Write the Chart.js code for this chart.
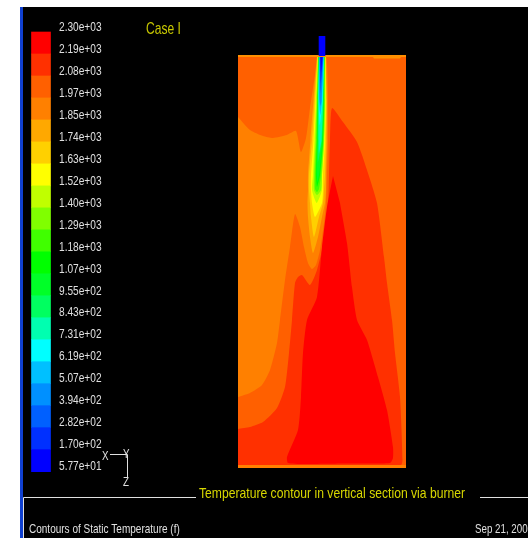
<!DOCTYPE html>
<html>
<head>
<meta charset="utf-8">
<title>Contours of Static Temperature</title>
<script src="https://cdn.jsdelivr.net/npm/chart.js@4/dist/chart.umd.min.js"></script>
<style>
  html, body { margin: 0; padding: 0; background: #fff; }
  canvas { display: block; }
</style>
</head>
<body>
<canvas id="chart" width="528" height="538"></canvas>
<script>
// Temperature levels (top of the colour bar first)
const levels = [2300, 2187.9, 2075.8, 1963.7, 1851.6, 1739.5, 1627.4, 1515.3, 1403.2, 1291.1, 1179, 1066.9, 954.8, 842.7, 730.6, 618.5, 506.4, 394.3, 282.2, 170.1, 57.7]
const levelLabels = ['2.30e+03', '2.19e+03', '2.08e+03', '1.97e+03', '1.85e+03', '1.74e+03', '1.63e+03', '1.52e+03', '1.40e+03', '1.29e+03', '1.18e+03', '1.07e+03', '9.55e+02', '8.43e+02', '7.31e+02', '6.19e+02', '5.07e+02', '3.94e+02', '2.82e+02', '1.70e+02', '5.77e+01']
const bandColors = ['#ff0000', '#ff3000', '#ff6000', '#ff8000', '#ffa800', '#ffd000', '#ffff00', '#c0ff00', '#80ff00', '#40ff00', '#00ff00', '#00ff28', '#00ff60', '#00ffb0', '#00ffff', '#00c0ff', '#0090ff', '#0060ff', '#0030ff', '#0000ff']

// Contour outlines: [across, height] from the bottom left corner
const sectionBox = [[0, 0], [168, 0], [168, 412.5], [0, 412.5]]
const burnerTip = [[80.7, 412], [87.3, 412], [87.3, 432], [80.7, 432]]
const topStrip = [[0, 413], [168, 413], [168, 411], [163, 411], [162, 409.5], [136, 409.5], [135, 411], [0, 411]]
const bottomStrip = [[0, 0], [168, 0], [168, 3], [0, 3]]
const band1970 = [[0, 351], [12, 338], [25, 332], [35, 330], [49, 333], [58, 337], [63, 316], [68, 330], [72, 360], [77, 393], [80, 412], [88, 412], [90, 376], [90, 328], [89, 293], [88, 265], [86, 245], [82, 218], [78, 203], [74, 199], [70, 205], [66, 221], [62, 241], [57, 254], [52, 221], [47, 188], [42, 148], [39, 125], [32, 98], [24, 83], [12, 75], [0, 71]]
const band2190 = [[0, 39], [12, 41], [25, 46], [39, 60], [47, 81], [51, 115], [54, 148], [57, 185], [60, 191], [64, 193], [72, 183], [79, 198], [87, 231], [90, 258], [91, 293], [92, 328], [94, 360], [105, 346], [119, 326], [129, 298], [139, 265], [146, 211], [149, 185], [154, 148], [157, 115], [162, 71], [164.5, 8], [163, 3], [5, 3], [0, 3]]
const band2300 = [[95, 292], [89, 261], [84, 221], [79, 171], [69, 148], [65, 115], [63, 71], [60, 38], [49, 11], [50, 5], [65, 4], [108, 4.5], [152, 5], [155, 10], [155, 21], [149, 58], [140, 91], [129, 128], [119, 148], [114, 181], [109, 225], [102, 265]]
const band1850 = [[79, 412], [75.5, 368], [72.5, 328], [70, 293], [70, 278], [69.5, 265], [70, 251], [72, 231], [75, 215], [80, 231], [84, 251], [87, 265], [88, 278], [88, 293], [89, 328], [89, 368], [88, 412]]
const band1740 = [[79.5, 412], [76.5, 368], [74, 328], [71, 293], [71, 278], [72, 265], [73, 251], [76, 231], [81, 251], [85, 265], [86, 278], [87, 293], [88, 328], [88.5, 368], [87.5, 412]]
const band1630 = [[79.7, 412], [77.5, 368], [75.5, 328], [73, 293], [73, 278], [74, 265], [77, 251], [84, 265], [85, 278], [85, 293], [87, 328], [88, 368], [87.3, 412]]
const band1520 = [[79.9, 412], [78, 368], [76.5, 328], [75, 293], [74, 278], [78.7, 265], [84, 278], [84, 293], [86.5, 328], [87.5, 368], [87.1, 412]]
const band1400 = [[80.2, 412], [78.7, 368], [77.5, 328], [76, 293], [76, 278], [79, 273], [83, 278], [84, 293], [86, 328], [87, 368], [86.8, 412]]
const band1290 = [[80.4, 412], [79.2, 368], [78.2, 328], [77, 293], [77, 279], [79, 276], [81, 279], [83, 293], [85.5, 328], [86.5, 368], [86.6, 412]]
const band1180 = [[80.6, 412], [79.7, 368], [79, 328], [78, 293], [79, 281], [82, 293], [85, 328], [86, 368], [86.4, 412]]
const band1070 = [[80.7, 412], [79.9, 368], [79.4, 328], [78.6, 296], [79.5, 286], [81.5, 296], [84.6, 328], [85.7, 368], [86.3, 412]]
const band955 = [[80.8, 412], [80.1, 368], [79.9, 328], [80, 306], [84, 328], [85.4, 368], [86.2, 412]]
const band843 = [[81, 412], [80.4, 368], [80.7, 328], [81, 315], [83.5, 328], [85, 368], [86, 412]]
const band731 = [[81.2, 412], [80.7, 368], [81.8, 343], [84.7, 368], [85.8, 412]]
const band619 = [[81.4, 412], [81.1, 368], [82.3, 353], [84.1, 368], [85.6, 412]]
const band507 = [[81.6, 412], [81.8, 368], [82.5, 362], [83.5, 368], [85.4, 412]]
const band394 = [[81.8, 412], [82.5, 375], [85.2, 412]]
const band282 = [[82.1, 412], [82.8, 385], [84.9, 412]]
const band170 = [[82.5, 412], [83, 396], [84.5, 412]]

// These four are straight edged, the contours get a little curve
const straightShapes = [sectionBox, bottomStrip, topStrip, burnerTip]

// Painted bottom to top, each band covers the one before it
const contourLayers = [
  [sectionBox, bandColors[2]],
  [band1970, bandColors[3]],
  [band2190, bandColors[1]],
  [band2300, bandColors[0]],
  [band1850, bandColors[4]],
  [band1740, bandColors[5]],
  [band1630, bandColors[6]],
  [band1520, bandColors[7]],
  [band1400, bandColors[8]],
  [band1290, bandColors[9]],
  [band1180, bandColors[10]],
  [band1070, bandColors[11]],
  [band955, bandColors[12]],
  [band843, bandColors[13]],
  [band731, bandColors[14]],
  [band619, bandColors[15]],
  [band507, bandColors[16]],
  [band394, bandColors[17]],
  [band282, bandColors[18]],
  [band170, bandColors[19]],
  [bottomStrip, bandColors[3]],
  [topStrip, '#ff9000'],
  [burnerTip, bandColors[19]]
]

const captions = [
  { text: 'Case I', x: 146, y: 29, color: '#c8c800', size: 17, squeeze: 0.71 },
  { text: 'Temperature contour in vertical section via burner', x: 199, y: 494, color: '#d8d800', size: 15, squeeze: 0.81 },
  { text: 'Contours of Static Temperature (f)', x: 29, y: 529, color: '#e0e0e0', size: 13, squeeze: 0.77 },
  { text: 'Sep 21, 2005', x: 475, y: 529, color: '#e0e0e0', size: 13, squeeze: 0.75 },
  { text: 'X', x: 102, y: 456, color: '#e0e0e0', size: 13, squeeze: 0.75 },
  { text: 'Y', x: 123, y: 454, color: '#e0e0e0', size: 13, squeeze: 0.75 },
  { text: 'Z', x: 123, y: 482, color: '#e0e0e0', size: 13, squeeze: 0.75 }
]

const fontFamily = '"Liberation Sans", sans-serif'

// The original lettering is narrow, no narrow face is installed so it is squeezed sideways
const drawNarrowText = (ctx, text, x, y, size, squeeze, color) => {
  ctx.save()
  ctx.translate(x, y)
  ctx.scale(squeeze, 1)
  ctx.font = `${size}px ${fontFamily}`
  ctx.fillStyle = color
  ctx.textBaseline = 'middle'
  ctx.fillText(text, 0, 0)
  ctx.restore()
}

// Window frame behind the plot and the text on top
const framePlugin = {
  id: 'frame',
  beforeDraw: (chart) => {
    const { ctx } = chart
    ctx.save()
    ctx.fillStyle = '#ffffff'
    ctx.fillRect(0, 0, 528, 538)
    ctx.fillStyle = '#1040d0'
    ctx.fillRect(20, 7, 3, 531)
    ctx.fillStyle = '#000000'
    ctx.fillRect(23, 7, 505, 531)
    ctx.restore()
  },
  afterDraw: (chart) => {
    const { ctx } = chart
    ctx.save()
    ctx.strokeStyle = '#e0e0e0'
    ctx.lineWidth = 1
    ctx.beginPath()
    ctx.moveTo(23.5, 538)
    ctx.lineTo(23.5, 497.5)
    ctx.lineTo(196, 497.5)
    ctx.moveTo(480, 497.5)
    ctx.lineTo(528, 497.5)
    ctx.moveTo(110, 454.5)
    ctx.lineTo(127.5, 454.5)
    ctx.lineTo(127.5, 477)
    ctx.stroke()
    ctx.restore()

    levels.forEach((value, i) => {
      const y = chart.scales.yLevel.getPixelForValue(value)
      drawNarrowText(ctx, levelLabels[i], 59, y - 5, 13.5, 0.75, '#e0e0e0')
    })
    captions.forEach(item => {
      drawNarrowText(ctx, item.text, item.x, item.y, item.size, item.squeeze, item.color)
    })
  }
}

const contourDatasets = contourLayers.map(([outline, color], i) => ({
  type: 'scatter',
  data: outline.map(([x, y]) => ({ x, y })),
  showLine: true,
  fill: 'shape',
  tension: straightShapes.includes(outline) ? 0 : 0.2,
  backgroundColor: color,
  borderWidth: 0,
  pointRadius: 0,
  xAxisID: 'x',
  yAxisID: 'y',
  order: contourLayers.length - i
}))

const colorBar = {
  type: 'bar',
  data: bandColors.map((color, i) => ({ x: -197, y: [levels[i + 1], levels[i]] })),
  backgroundColor: bandColors,
  borderWidth: 0,
  barThickness: 19,
  xAxisID: 'x',
  yAxisID: 'yLevel',
  order: 0
}

new Chart(document.getElementById('chart'), {
  type: 'scatter',
  plugins: [framePlugin],
  data: { datasets: [colorBar, ...contourDatasets] },
  options: {
    responsive: false,
    animation: false,
    layout: { padding: 0 },
    plugins: { legend: { display: false }, tooltip: { enabled: false } },
    scales: {
      x: { type: 'linear', min: -238, max: 290, offset: false, display: false },
      y: { type: 'linear', min: -70, max: 468, display: false },
      yLevel: { type: 'linear', min: -280.4, max: 2463.2, display: false }
    }
  }
})
</script>
</body>
</html>
